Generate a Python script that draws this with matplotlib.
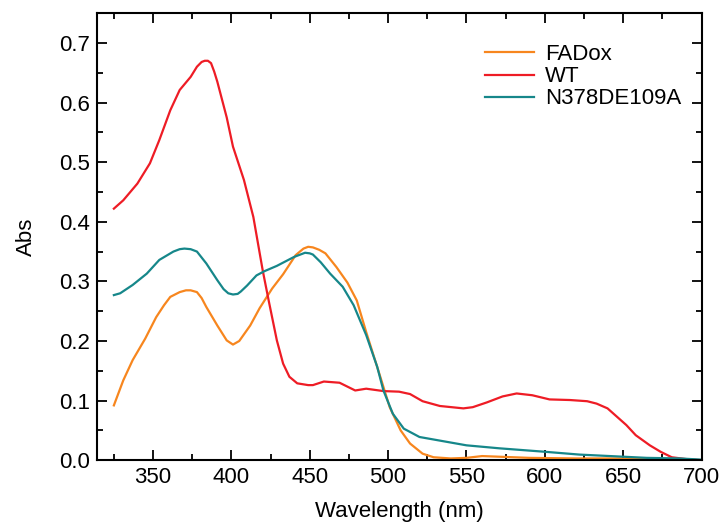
import numpy as np
import matplotlib.pyplot as plt
from matplotlib.ticker import MultipleLocator

plt.rcParams['font.family'] = ['Liberation Sans', 'DejaVu Sans']

# FADox (oxidised flavin)
fad_x = [325, 331, 337, 345, 352, 357, 361, 367, 371, 374, 378, 381, 384, 391,
         397, 401, 405, 412, 418, 426, 433, 441, 446, 449, 452, 456, 460, 467,
         474, 480, 486, 495, 501, 508, 514, 522, 529, 540, 550, 560, 570, 590,
         620, 650, 670, 685, 700]
fad_y = [0.092, 0.134, 0.168, 0.204, 0.240, 0.260, 0.274, 0.282, 0.285, 0.285,
         0.282, 0.272, 0.257, 0.226, 0.201, 0.194, 0.200, 0.226, 0.255, 0.288,
         0.312, 0.344, 0.355, 0.358, 0.357, 0.353, 0.347, 0.324, 0.298, 0.268,
         0.215, 0.140, 0.089, 0.050, 0.028, 0.011, 0.005, 0.003, 0.004, 0.007,
         0.006, 0.004, 0.003, 0.003, 0.002, 0.001, 0.0]

# WT
wt_x = [325, 331, 340, 348, 354, 361, 367, 374, 378, 381, 383, 385, 387, 389,
        391, 394, 397, 401, 408, 414, 420, 424, 429, 433, 437, 442, 449, 452,
        459, 469, 479, 486, 497, 507, 514, 522, 533, 548, 554, 563, 573, 582,
        592, 603, 616, 627, 633, 640, 646, 652, 658, 667, 674, 681, 690, 700]
wt_y = [0.422, 0.436, 0.464, 0.498, 0.537, 0.587, 0.621, 0.643, 0.660, 0.668,
        0.670, 0.670, 0.666, 0.652, 0.635, 0.605, 0.575, 0.526, 0.470, 0.408,
        0.318, 0.265, 0.201, 0.162, 0.140, 0.129, 0.126, 0.126, 0.132, 0.130,
        0.117, 0.120, 0.116, 0.115, 0.111, 0.099, 0.091, 0.087, 0.089, 0.097,
        0.107, 0.112, 0.109, 0.102, 0.101, 0.099, 0.095, 0.087, 0.073, 0.059,
        0.042, 0.025, 0.014, 0.005, 0.002, 0.0]

# N378DE109A
mut_x = [325, 329, 337, 346, 354, 363, 367, 370, 374, 378, 384, 391, 395, 398,
         401, 404, 406, 410, 416, 421, 429, 440, 445, 447, 450, 452, 457, 463,
         471, 478, 486, 493, 497, 503, 510, 520, 535, 550, 571, 601, 622, 644,
         665, 686, 700]
mut_y = [0.277, 0.280, 0.294, 0.313, 0.336, 0.350, 0.354, 0.355, 0.354, 0.350,
         0.330, 0.302, 0.287, 0.280, 0.278, 0.279, 0.283, 0.293, 0.310, 0.317,
         0.326, 0.341, 0.346, 0.348, 0.347, 0.345, 0.332, 0.313, 0.291, 0.260,
         0.210, 0.157, 0.117, 0.078, 0.053, 0.039, 0.032, 0.025, 0.020, 0.014,
         0.0095, 0.0067, 0.004, 0.003, 0.001]

fig = plt.figure(figsize=(7.27, 5.23), dpi=100)
ax = fig.add_axes([0.134, 0.12, 0.831, 0.855])

ax.plot(fad_x, fad_y, color='#f7861e', lw=1.6, label='FADox')
ax.plot(wt_x, wt_y, color='#ee1c25', lw=1.6, label='WT')
ax.plot(mut_x, mut_y, color='#16878a', lw=1.6, label='N378DE109A')

ax.set_xlim(314.5, 700)
ax.set_ylim(0, 0.75)
ax.xaxis.set_major_locator(MultipleLocator(50))
ax.xaxis.set_minor_locator(MultipleLocator(25))
ax.yaxis.set_major_locator(MultipleLocator(0.1))
ax.yaxis.set_minor_locator(MultipleLocator(0.05))
ax.yaxis.set_major_formatter(plt.FormatStrFormatter('%.1f'))
ax.tick_params(which='both', direction='in', top=True, right=True,
               width=1.3, labelsize=16)
ax.tick_params(which='major', length=7, pad=5)
ax.tick_params(which='minor', length=4)
for s in ax.spines.values():
    s.set_linewidth(1.5)

ax.set_xlabel('Wavelength (nm)', fontsize=16, labelpad=9)
ax.set_ylabel('Abs', fontsize=16, labelpad=16)

ax.legend(loc='upper right', frameon=False, fontsize=16, handlelength=2.2,
          handletextpad=0.5, labelspacing=0.05,
          bbox_to_anchor=(1.0, 0.975))

fig.savefig('out.png', dpi=100)
